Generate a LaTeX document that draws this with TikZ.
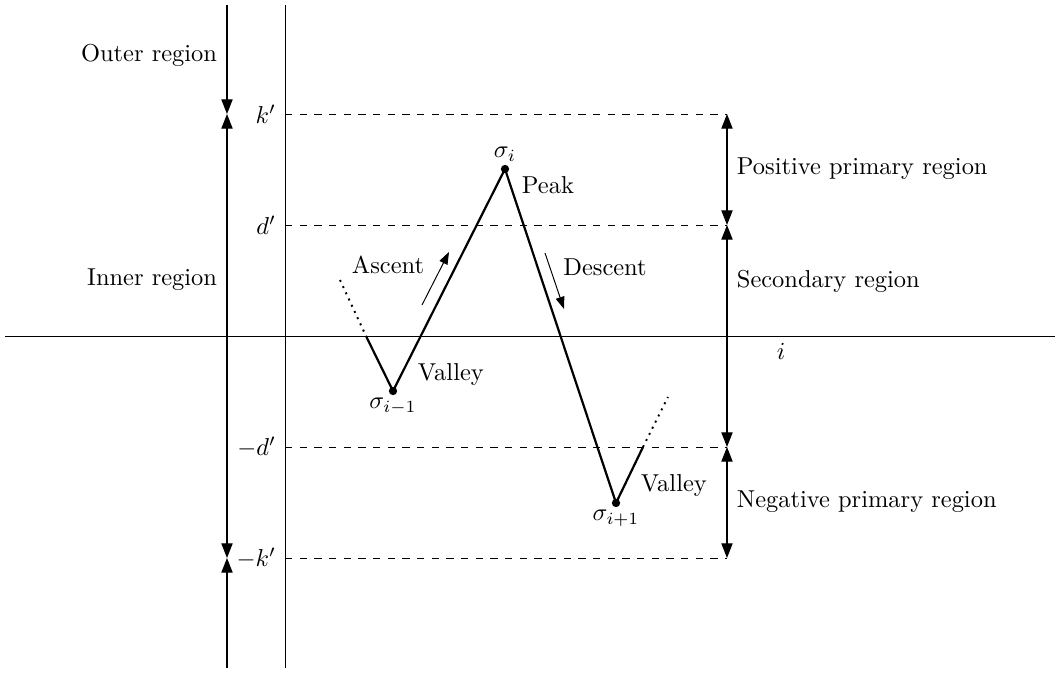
\documentclass[tikz,border=0pt]{standalone}
\usetikzlibrary{arrows.meta}
\begin{document}
\begin{tikzpicture}[x=0.409pt,y=-0.409pt,
  tip/.tip={Triangle[length=6pt,width=4.6pt]},
  stip/.tip={Triangle[length=5pt,width=3.6pt]},
  axis/.style={line width=0.4pt},
  lvl/.style={dashed,line width=0.4pt},
  dim/.style={line width=0.5pt,tip-tip},
  dimend/.style={line width=0.5pt,-tip},
  dimstart/.style={line width=0.5pt,tip-},
  walk/.style={line width=0.9pt},
  dotline/.style={dotted,line width=0.8pt},
  small/.style={line width=0.4pt,-stip},
  pt/.style={circle,fill,inner sep=0pt,minimum size=3.4pt},
  lab/.style={inner sep=1pt}]
\useasboundingbox (0,0) rectangle (1055,672);
% axes
\coordinate (hx0) at (5,336); \coordinate (hx1) at (1055,336);
\coordinate (vy0) at (285,5); \coordinate (vy1) at (285,668);
\draw[axis] (hx0) -- (hx1);
\draw[axis] (vy0) -- (vy1);
% level coordinates
\coordinate (kL) at (285,114); \coordinate (kR) at (727,114);
\coordinate (dL) at (285,225); \coordinate (dR) at (727,225);
\coordinate (mdL) at (285,447); \coordinate (mdR) at (727,447);
\coordinate (mkL) at (285,558); \coordinate (mkR) at (727,558);
\draw[lvl] (kL) -- (kR);
\draw[lvl] (dL) -- (dR);
\draw[lvl] (mdL) -- (mdR);
\draw[lvl] (mkL) -- (mkR);
% left region line
\coordinate (a0) at (227,5); \coordinate (a1) at (227,114);
\coordinate (a2) at (227,558); \coordinate (a3) at (227,668);
\draw[dimend] (a0) -- (a1);
\draw[dim] (a1) -- (a2);
\draw[dimstart] (a2) -- (a3);
% right region line
\draw[dim] (kR) -- (dR);
\draw[dim] (dR) -- (mdR);
\draw[dim] (mdR) -- (mkR);
% level labels
\node[lab,anchor=east] (tk) at (279,114) {$k'$};
\node[lab,anchor=east] (td) at (279,225) {$d'$};
\node[lab,anchor=east] (tmd) at (279,447) {$-d'$};
\node[lab,anchor=east] (tmk) at (279,558) {$-k'$};
% region labels
\node[lab,anchor=east] (outer) at (220,55) {Outer region};
\node[lab,anchor=east] (inner) at (220,280) {Inner region};
\node[lab,anchor=west] (ppr) at (734,169) {Positive primary region};
\node[lab,anchor=west] (sr) at (734,281) {Secondary region};
\node[lab,anchor=west] (npr) at (734,502) {Negative primary region};
\node[lab] (ilab) at (781,351) {$i$};
% walk
\node[pt] (s0) at (393,391) {};
\node[pt] (s1) at (505,169) {};
\node[pt] (s2) at (616,503) {};
\coordinate (l1) at (366,336); \coordinate (l0) at (340,280);
\coordinate (r1) at (643,447); \coordinate (r0) at (668,397);
\draw[dotline] (l0) -- (l1);
\draw[walk] (l1) -- (s0.center) -- (s1.center) -- (s2.center) -- (r1);
\draw[dotline] (r1) -- (r0);
\node[lab,anchor=south] (ts1) at (505,164) {$\sigma_i$};
\node[lab,anchor=north] (ts0) at (393,395) {$\sigma_{i-1}$};
\node[lab,anchor=north] (ts2) at (616,507) {$\sigma_{i+1}$};
\node[lab,anchor=west] (peak) at (519,185) {Peak};
\node[lab,anchor=west] (v1) at (415,375) {Valley};
\node[lab,anchor=west] (v2) at (638,486) {Valley};
\node[lab] (asc) at (388,265) {Ascent};
\node[lab] (desc) at (605,267) {Descent};
\coordinate (aa0) at (422,305); \coordinate (aa1) at (449,252);
\coordinate (da0) at (545,253); \coordinate (da1) at (564,309);
\draw[small] (aa0) -- (aa1);
\draw[small] (da0) -- (da1);
\end{tikzpicture}
\end{document}
